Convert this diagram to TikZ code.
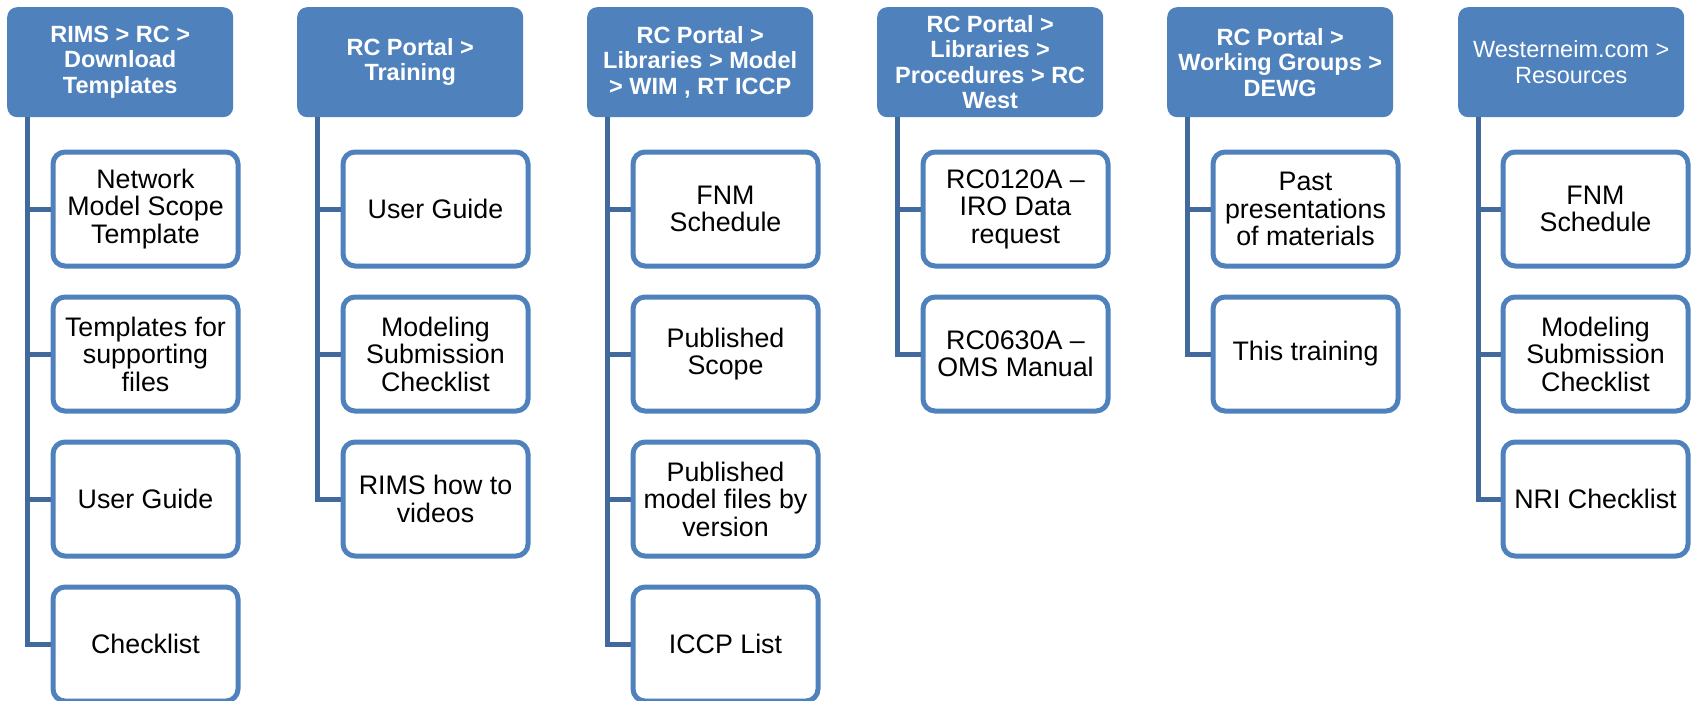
\documentclass[tikz,border=0pt]{standalone}
\usepackage{fontspec}
\setmainfont{Liberation Sans}
\definecolor{hblue}{HTML}{4F81BD}
\definecolor{lineblue}{HTML}{41699B}
\tikzset{
  x=1pt, y=-1pt,
  head/.style={rectangle, rounded corners=10pt, fill=hblue, text=white,
    minimum width=226pt, minimum height=110pt, inner sep=0pt, align=center,
    anchor=north west, font=\fontsize{23.5}{25.5}\selectfont\bfseries},
  headlight/.style={head, font=\fontsize{23.5}{25.5}\selectfont},
  item/.style={rectangle, rounded corners=12pt, draw=hblue, line width=5pt,
    fill=white, text=black, minimum width=185pt, minimum height=114pt,
    inner sep=0pt, align=center, anchor=north west,
    font=\fontsize{26.8}{27.5}\selectfont},
  conn/.style={draw=lineblue, line width=5pt, line join=miter}
}
\begin{document}
\begin{tikzpicture}
\useasboundingbox (0,0) rectangle (1692,701);

% Column 1
\node[head] (h1) at (7,7) {RIMS > RC >\\Download\\Templates};
\coordinate (t1) at (27.5,117);
\node[item] (c11) at (50.5,149.5) {Network\\Model Scope\\Template};
\node[item] (c12) at (50.5,294.5) {Templates for\\supporting\\files};
\node[item] (c13) at (50.5,439.5) {User Guide};
\node[item] (c14) at (50.5,584.5) {Checklist};
\foreach \c in {c11,c12,c13,c14} \draw[conn] (t1) |- (\c.west);

% Column 2
\node[head] (h2) at (297,7) {RC Portal >\\Training};
\coordinate (t2) at (317.5,117);
\node[item] (c21) at (340.5,149.5) {User Guide};
\node[item] (c22) at (340.5,294.5) {Modeling\\Submission\\Checklist};
\node[item] (c23) at (340.5,439.5) {RIMS how to\\videos};
\foreach \c in {c21,c22,c23} \draw[conn] (t2) |- (\c.west);

% Column 3
\node[head] (h3) at (587,7) {RC Portal >\\Libraries > Model\\> WIM , RT ICCP};
\coordinate (t3) at (607.5,117);
\node[item] (c31) at (630.5,149.5) {FNM\\Schedule};
\node[item] (c32) at (630.5,294.5) {Published\\Scope};
\node[item] (c33) at (630.5,439.5) {Published\\model files by\\version};
\node[item] (c34) at (630.5,584.5) {ICCP List};
\foreach \c in {c31,c32,c33,c34} \draw[conn] (t3) |- (\c.west);

% Column 4
\node[head] (h4) at (877,7) {RC Portal >\\Libraries >\\Procedures > RC\\West};
\coordinate (t4) at (897.5,117);
\node[item] (c41) at (920.5,149.5) {RC0120A –\\IRO Data\\request};
\node[item] (c42) at (920.5,294.5) {RC0630A –\\OMS Manual};
\foreach \c in {c41,c42} \draw[conn] (t4) |- (\c.west);

% Column 5
\node[head] (h5) at (1167,7) {RC Portal >\\Working Groups >\\DEWG};
\coordinate (t5) at (1187.5,117);
\node[item] (c51) at (1210.5,149.5) {Past\\presentations\\of materials};
\node[item] (c52) at (1210.5,294.5) {This training};
\foreach \c in {c51,c52} \draw[conn] (t5) |- (\c.west);

% Column 6
\node[headlight] (h6) at (1458,7) {Westerneim.com >\\Resources};
\coordinate (t6) at (1478.5,117);
\node[item] (c61) at (1500.5,149.5) {FNM\\Schedule};
\node[item] (c62) at (1500.5,294.5) {Modeling\\Submission\\Checklist};
\node[item] (c63) at (1500.5,439.5) {NRI Checklist};
\foreach \c in {c61,c62,c63} \draw[conn] (t6) |- (\c.west);
\end{tikzpicture}
\end{document}
